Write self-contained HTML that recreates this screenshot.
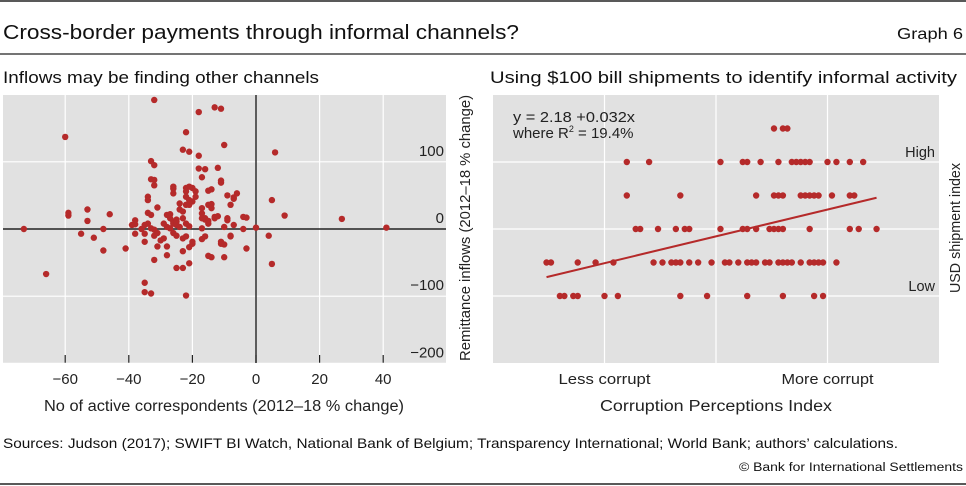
<!DOCTYPE html>
<html><head><meta charset="utf-8">
<style>
html,body{margin:0;padding:0;background:#fff;}
svg{display:block;font-family:"Liberation Sans",sans-serif;}
</style></head>
<body>
<svg id="chart" width="966" height="486" viewBox="0 0 966 486" xmlns="http://www.w3.org/2000/svg">
<line x1="0" y1="1" x2="966" y2="1" stroke="#222" stroke-width="1.5"/>
<text x="3" y="39" font-size="20" fill="#111" textLength="516" lengthAdjust="spacingAndGlyphs">Cross-border payments through informal channels?</text>
<text x="963" y="39" font-size="16" fill="#111" text-anchor="end" textLength="66" lengthAdjust="spacingAndGlyphs">Graph 6</text>
<line x1="0" y1="54" x2="966" y2="54" stroke="#222" stroke-width="1.2"/>
<text x="3" y="83" font-size="17" fill="#111" textLength="316" lengthAdjust="spacingAndGlyphs">Inflows may be finding other channels</text>
<text x="490" y="83" font-size="17" fill="#111" textLength="467" lengthAdjust="spacingAndGlyphs">Using $100 bill shipments to identify informal activity</text>
<g id="left"></g>
<g id="right"></g>
<text x="3" y="448" font-size="14" fill="#111" textLength="895" lengthAdjust="spacingAndGlyphs">Sources: Judson (2017); SWIFT BI Watch, National Bank of Belgium; Transparency International; World Bank; authors’ calculations.</text>
<text x="963" y="471" font-size="11.5" fill="#111" text-anchor="end" textLength="224" lengthAdjust="spacingAndGlyphs">© Bank for International Settlements</text>
<line x1="0" y1="484" x2="966" y2="484" stroke="#222" stroke-width="1.5"/>
</svg>
<script>
const NS="http://www.w3.org/2000/svg";
// Left panel data
const leftXTicks=[-60,-40,-20,0,20,40];
const leftYTicks=[100,0,-100,-200];
const leftX=[-32,-18,-13,-11,-60,-22,-10,-23,-21,6,-18,-33,-32,-18,-16,-12,-17,-33,-32,-32,-11,-11,-26,-26,-22,-21,-20,-22,-19,-15,-14,-34,-34,5,-9,-7,-6,-7,-8,-22,-21,-19,-20,-22,-21,-24,-26,-31,-53,-59,-59,-46,-53,-34,-33,-27,-24,-23,-17,-17,-16,-15,-14,-14,-13,-12,-15,9,27,41,-73,0,-4,-3,-9,-9,-7,-10,-4,-39,-38,-38,-36,-35,-34,-33,-32,-28,-27,-26,-25,-26,-25,-25,-24,-23,-22,-21,-28,-27,-29,-17,-16,-13,-15,-17,-38,-35,-32,-31,-26,-25,-23,-22,-20,-20,-16,-17,-29,-30,-31,-28,-23,-21,-35,-32,-28,-48,-55,-51,-48,-41,-11,-11,-10,-8,-8,-3,4,5,-66,-25,-23,-21,-15,-14,-10,-35,-35,-33,-22];
const leftY=[192,174,181,179,137,144,125,118,115,114,109,101,95,90,89,91,77,74,73,65,69,72,63,60,61,63,61,56,56,57,59,48,43,43,50,47,53,45,36,48,43,48,41,36,36,38,53,32,29,24,20,22,12,24,21,22,29,26,31,23,16,36,37,31,18,19,8,20,15,2,0,2,18,17,16,13,6,3,0,6,7,13,0,6,8,1,-1,21,16,11,14,8,6,11,3,16,8,4,3,1,8,16,14,16,12,1,-7,-7,-10,-6,-6,-10,-14,-11,-19,-22,-11,-15,-14,-17,-26,-26,-33,-27,-19,-46,-39,0,-7,-13,-32,-29,-19,-22,-23,-10,-11,-29,-10,-52,-67,-58,-58,-51,-40,-42,-42,-80,-94,-96,-99];
// Right panel data
const rightYLabels=["High","Low"];
const rightYLabelLevels=[6,2];
const rightXLabels=["Less corrupt","More corrupt"];
const rightXLabelVals=[25,75];
const rightX=[63,65,66, 30,35,51,56,57,60,64,67,68,69,70,71,75,77,80,83, 30,42,59,63,64,65,69,70,71,72,73,76,80,81, 32,33,37,41,43,44,51,56,57,59,62,63,64,65,71,80,82,86, 12,13,19,23,27,36,38,40,41,42,44,46,49,52,53,55,57,58,59,61,62,64,65,66,67,69,71,72,73,74,77, 15,16,18,19,25,28,42,48,57,65,72,74];
const rightY=[7,7,7, 6,6,6,6,6,6,6,6,6,6,6,6,6,6,6,6, 5,5,5,5,5,5,5,5,5,5,5,5,5,5, 4,4,4,4,4,4,4,4,4,4,4,4,4,4,4,4,4,4, 3,3,3,3,3,3,3,3,3,3,3,3,3,3,3,3,3,3,3,3,3,3,3,3,3,3,3,3,3,3,3, 2,2,2,2,2,2,2,2,2,2,2,2];
const regIntercept=2.18, regSlope=0.032, regXStart=12, regXEnd=86;

function el(tag,attrs,parent){const e=document.createElementNS(NS,tag);for(const k in attrs)e.setAttribute(k,attrs[k]);parent.appendChild(e);return e;}

// Left scales
const L={x0:3,x1:446,y0:95,y1:363};
const lx=v=>256+v*3.18;
const ly=v=>229-v*0.672;
const lg=document.getElementById('left');
let r=el('rect',{x:L.x0,y:L.y0,width:L.x1-L.x0,height:L.y1-L.y0,fill:'#e1e1e1'},lg);


leftXTicks.forEach(t=>{
  let g=el('line',{x1:lx(t),x2:lx(t),y1:L.y0,y2:L.y1,stroke:'#fff','stroke-width':1.2},lg);
  
  
  let tk=el('line',{x1:lx(t),x2:lx(t),y1:L.y1-8,y2:L.y1,stroke:'#222','stroke-width':1.2},lg);
  
  
  let tx=el('text',{x:lx(t),y:384,'font-size':15,'text-anchor':'middle',fill:'#222'},lg);
  tx.textContent=(t<0?'\u2212'+(-t):t);
  
  
});
leftYTicks.forEach(t=>{
  if(t!==0){let g=el('line',{x1:L.x0,x2:L.x1,y1:ly(t),y2:ly(t),stroke:'#fff','stroke-width':1.2},lg);
  
  }
  let tx=el('text',{x:444,y:ly(t)-6,'font-size':15,'text-anchor':'end',fill:'#222'},lg);
  tx.textContent=(t<0?'\u2212'+(-t):t);
  
  
});
let ax=el('line',{x1:L.x0,x2:L.x1,y1:ly(0),y2:ly(0),stroke:'#222','stroke-width':1.4},lg);


let ay=el('line',{x1:lx(0),x2:lx(0),y1:L.y0,y2:L.y1,stroke:'#222','stroke-width':1.4},lg);


leftX.forEach((v,i)=>{
  const c=el('circle',{cx:lx(v),cy:ly(leftY[i]),r:3.2,fill:'#b52a2a'},lg);
  
  
});
let lxt=el('text',{x:224,y:411,'font-size':15.5,'text-anchor':'middle',fill:'#222',textLength:360,lengthAdjust:'spacingAndGlyphs'},lg);
lxt.textContent='No of active correspondents (2012–18 % change)';


let lyt=el('text',{x:0,y:0,'font-size':14.5,'text-anchor':'middle',fill:'#222',textLength:266,lengthAdjust:'spacingAndGlyphs',transform:'translate(470,228) rotate(-90)'},lg);
lyt.textContent='Remittance inflows (2012–18 % change)';



// Right scales
const R={x0:493,x1:939,y0:95,y1:363};
const rx=v=>493+v*4.46;
const ry=v=>363-v*33.5;
const rg=document.getElementById('right');
let rr=el('rect',{x:R.x0,y:R.y0,width:R.x1-R.x0,height:R.y1-R.y0,fill:'#e1e1e1'},rg);


[25,50,75].forEach(t=>{
  let g=el('line',{x1:rx(t),x2:rx(t),y1:R.y0,y2:R.y1,stroke:'#fff','stroke-width':1.2},rg);
  
  
});
[2,4,6].forEach(t=>{
  let g=el('line',{x1:R.x0,x2:R.x1,y1:ry(t),y2:ry(t),stroke:'#fff','stroke-width':1.2},rg);
  
  
});
rightYLabels.forEach((s,i)=>{
  let tx=el('text',{x:935,y:ry(rightYLabelLevels[i])-5,'font-size':14.5,'text-anchor':'end',fill:'#222'},rg);
  tx.textContent=s;
  
  
});
rightXLabels.forEach((s,i)=>{
  let tx=el('text',{x:rx(rightXLabelVals[i]),y:384,'font-size':14.5,'text-anchor':'middle',fill:'#222',textLength:92,lengthAdjust:'spacingAndGlyphs'},rg);
  tx.textContent=s;
  
  
});
rightX.forEach((v,i)=>{
  const c=el('circle',{cx:rx(v),cy:ry(rightY[i]),r:3.2,fill:'#b52a2a'},rg);
  
  
});
let reg=el('line',{x1:rx(regXStart),y1:ry(regIntercept+regSlope*regXStart),x2:rx(regXEnd),y2:ry(regIntercept+regSlope*regXEnd),stroke:'#b52a2a','stroke-width':2},rg);


let eq1=el('text',{x:513,y:122,'font-size':15,fill:'#222',textLength:122,lengthAdjust:'spacingAndGlyphs'},rg);
eq1.textContent='y = 2.18 +0.032x';


let eq2=el('text',{x:513,y:138,'font-size':15,fill:'#222'},rg);
eq2.innerHTML='where R<tspan font-size="9" dy="-6">2</tspan><tspan dy="6"> = 19.4%</tspan>';


let rxt=el('text',{x:716,y:411,'font-size':15.5,'text-anchor':'middle',fill:'#222',textLength:232,lengthAdjust:'spacingAndGlyphs'},rg);
rxt.textContent='Corruption Perceptions Index';


let ryt=el('text',{x:0,y:0,'font-size':14.5,'text-anchor':'middle',fill:'#222',textLength:130,lengthAdjust:'spacingAndGlyphs',transform:'translate(960,228) rotate(-90)'},rg);
ryt.textContent='USD shipment index';


</script>
</body></html>
